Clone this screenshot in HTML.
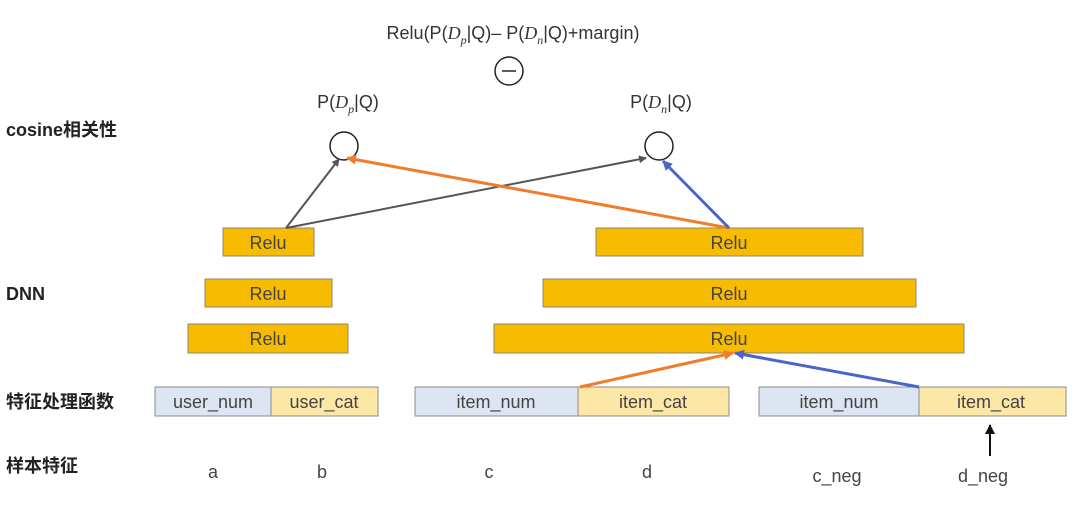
<!DOCTYPE html>
<html><head><meta charset="utf-8"><style>
body{margin:0;background:#fff;}
svg text{font-family:"Liberation Sans","Noto Sans CJK SC",sans-serif;}
</style></head><body>
<svg width="1080" height="515" viewBox="0 0 1080 515" xmlns="http://www.w3.org/2000/svg">
<defs>
<marker id="ag" markerWidth="8" markerHeight="8" refX="7" refY="4" orient="auto" markerUnits="userSpaceOnUse"><path d="M0,0 L8,4 L0,8 z" fill="#555"/></marker>
<marker id="ao" markerWidth="10" markerHeight="10" refX="9" refY="5" orient="auto" markerUnits="userSpaceOnUse"><path d="M0,0 L10,5 L0,10 z" fill="#f07d2e"/></marker>
<marker id="ab" markerWidth="10" markerHeight="10" refX="9" refY="5" orient="auto" markerUnits="userSpaceOnUse"><path d="M0,0 L10,5 L0,10 z" fill="#4a64c8"/></marker>
<marker id="ak" markerWidth="10" markerHeight="10" refX="9" refY="5" orient="auto" markerUnits="userSpaceOnUse"><path d="M0,0 L10,5 L0,10 z" fill="#111"/></marker>
</defs>
<g font-size="18" fill="#333">
<text x="513" y="39" text-anchor="middle">Relu(P(<tspan font-style="italic" font-family="Liberation Serif">D</tspan><tspan font-size="12" dy="5" font-style="italic" font-family="Liberation Serif">p</tspan><tspan dy="-5">|Q)– P(</tspan><tspan font-style="italic" font-family="Liberation Serif">D</tspan><tspan font-size="12" dy="5" font-style="italic" font-family="Liberation Serif">n</tspan><tspan dy="-5">|Q)+margin)</tspan></text>
<text x="348" y="108" text-anchor="middle">P(<tspan font-style="italic" font-family="Liberation Serif">D</tspan><tspan font-size="12" dy="5" font-style="italic" font-family="Liberation Serif">p</tspan><tspan dy="-5">|Q)</tspan></text>
<text x="661" y="108" text-anchor="middle">P(<tspan font-style="italic" font-family="Liberation Serif">D</tspan><tspan font-size="12" dy="5" font-style="italic" font-family="Liberation Serif">n</tspan><tspan dy="-5">|Q)</tspan></text>
</g>
<circle cx="509" cy="71" r="14" fill="none" stroke="#222" stroke-width="1.5"/>
<line x1="502" y1="71" x2="516" y2="71" stroke="#222" stroke-width="1.5"/>
<circle cx="344" cy="146" r="14" fill="#fff" stroke="#222" stroke-width="1.5"/>
<circle cx="659" cy="146" r="14" fill="#fff" stroke="#222" stroke-width="1.5"/>
<g font-size="18" font-weight="bold" fill="#222">
<text x="6" y="136">cosine相关性</text>
<text x="6" y="300">DNN</text>
<text x="6" y="408">特征处理函数</text>
<text x="6" y="472">样本特征</text>
</g>
<g fill="#f7bb00" stroke="#8c8a70" stroke-width="1">
<rect x="223" y="228" width="91" height="28"/>
<rect x="596" y="228" width="267" height="28"/>
<rect x="205" y="279" width="127" height="28"/>
<rect x="543" y="279" width="373" height="28"/>
<rect x="188" y="324" width="160" height="29"/>
<rect x="494" y="324" width="470" height="29"/>
</g>
<g font-size="18" fill="#444" text-anchor="middle">
<text x="268" y="249">Relu</text><text x="729" y="249">Relu</text>
<text x="268" y="300">Relu</text><text x="729" y="300">Relu</text>
<text x="268" y="345">Relu</text><text x="729" y="345">Relu</text>
</g>
<g stroke="#8c8c8c" stroke-width="1">
<rect x="155" y="387" width="116" height="29" fill="#dce5f1"/>
<rect x="271" y="387" width="107" height="29" fill="#fce7a6"/>
<rect x="415" y="387" width="163" height="29" fill="#dce5f1"/>
<rect x="578" y="387" width="151" height="29" fill="#fce7a6"/>
<rect x="759" y="387" width="160" height="29" fill="#dce5f1"/>
<rect x="919" y="387" width="147" height="29" fill="#fce7a6"/>
</g>
<g font-size="18" fill="#444" text-anchor="middle">
<text x="213" y="408">user_num</text><text x="324" y="408">user_cat</text>
<text x="496" y="408">item_num</text><text x="653" y="408">item_cat</text>
<text x="839" y="408">item_num</text><text x="991" y="408">item_cat</text>
<text x="213" y="478">a</text><text x="322" y="478">b</text>
<text x="489" y="478">c</text><text x="647" y="478">d</text>
<text x="837" y="482">c_neg</text><text x="983" y="482">d_neg</text>
</g>
<line x1="286" y1="228" x2="339" y2="159" stroke="#555" stroke-width="2" marker-end="url(#ag)"/>
<line x1="286" y1="228" x2="646" y2="158" stroke="#555" stroke-width="2" marker-end="url(#ag)"/>
<line x1="729" y1="228" x2="347" y2="158" stroke="#f07d2e" stroke-width="3" marker-end="url(#ao)"/>
<line x1="729" y1="228" x2="663" y2="161" stroke="#4a64c8" stroke-width="3" marker-end="url(#ab)"/>
<line x1="580" y1="387" x2="733" y2="353" stroke="#f07d2e" stroke-width="3" marker-end="url(#ao)"/>
<line x1="919" y1="387" x2="735" y2="353" stroke="#4a64c8" stroke-width="3" marker-end="url(#ab)"/>
<line x1="990" y1="456" x2="990" y2="425" stroke="#111" stroke-width="2" marker-end="url(#ak)"/>
</svg>
</body></html>
